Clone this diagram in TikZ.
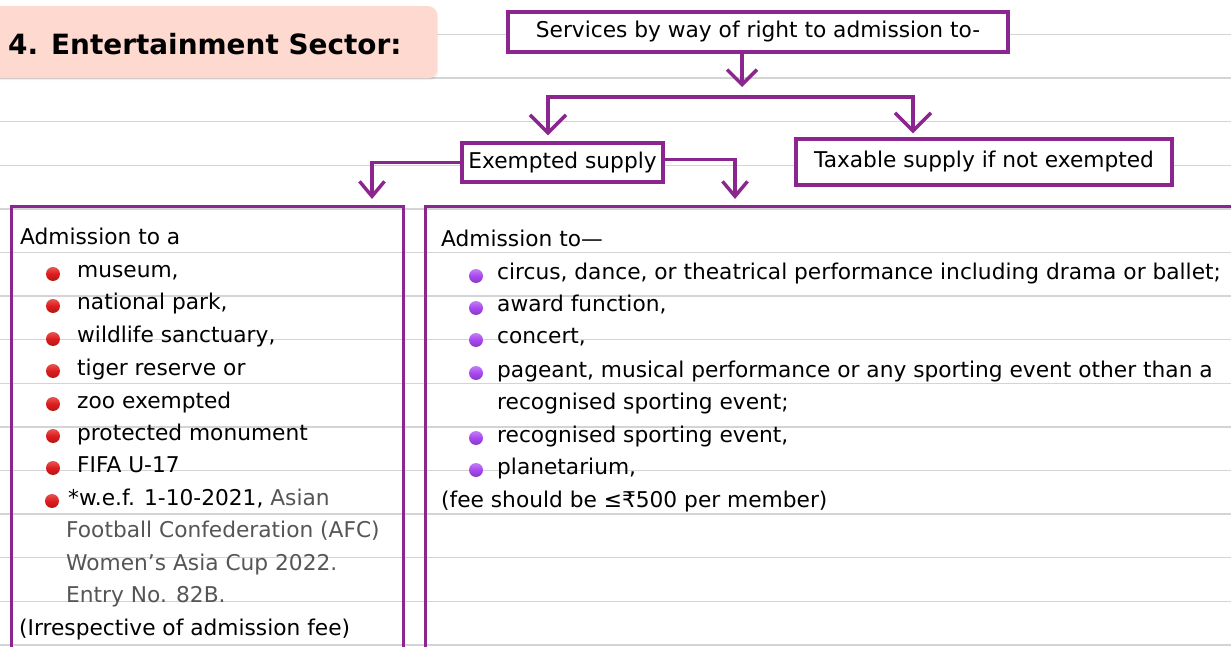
\documentclass[tikz,border=0pt]{standalone}
\usepackage{fontspec}
\setmainfont{DejaVu Sans}
\usetikzlibrary{arrows.meta,shadows,positioning}

\definecolor{flowpurple}{RGB}{138,38,142}
\definecolor{rulegray}{RGB}{212,212,212}
\definecolor{titlepink}{RGB}{253,217,207}
\definecolor{dotred}{RGB}{222,28,28}
\definecolor{dotviolet}{RGB}{168,72,240}
\definecolor{notegray}{RGB}{85,85,85}

\newcommand{\bodyfont}{\fontsize{21.8}{26}\selectfont}

\tikzset{
  ruleline/.style={draw=rulegray, line width=1.4bp},
  titlebox/.style={fill=titlepink, rounded corners=9bp,
    drop shadow={opacity=0.12, shadow xshift=1bp, shadow yshift=-2bp}},
  flowbox/.style={draw=flowpurple, line width=3.4bp, fill=white, inner sep=0pt, font=\bodyfont},
  panel/.style={draw=flowpurple, line width=3.4bp, inner sep=0pt, anchor=north west},
  flow/.style={draw=flowpurple, line width=3.4bp, -{Straight Barb[length=15bp,width=30bp]}},
  fork/.style={draw=flowpurple, line width=3.4bp,
    {Straight Barb[length=18bp,width=36bp]}-{Straight Barb[length=18bp,width=36bp]}},
  drop/.style={draw=flowpurple, line width=3.4bp, -{Straight Barb[length=15bp,width=25bp]}},
  txt/.style={anchor=base west, inner sep=0pt, font=\bodyfont},
  reddot/.style={circle, inner sep=0pt, minimum size=14bp,
    top color=dotred!75!white, bottom color=dotred!80!black, middle color=dotred},
  violetdot/.style={circle, inner sep=0pt, minimum size=14bp,
    top color=dotviolet!70!white, bottom color=dotviolet!80!black, middle color=dotviolet},
}

\begin{document}
\begin{tikzpicture}[x=1bp, y=-1bp]
    \clip (0,0) rectangle (1231,647);

    % ruled paper
    \draw[ruleline] (0,34.5) -- (1231,34.5);
    \draw[ruleline] (0,78.1) -- (1231,78.1);
    \draw[ruleline] (0,121.7) -- (1231,121.7);
    \draw[ruleline] (0,165.3) -- (1231,165.3);
    \draw[ruleline] (0,208.9) -- (1231,208.9);
    \draw[ruleline] (0,252.5) -- (1231,252.5);
    \draw[ruleline] (0,296.1) -- (1231,296.1);
    \draw[ruleline] (0,339.7) -- (1231,339.7);
    \draw[ruleline] (0,383.3) -- (1231,383.3);
    \draw[ruleline] (0,426.9) -- (1231,426.9);
    \draw[ruleline] (0,470.5) -- (1231,470.5);
    \draw[ruleline] (0,514.1) -- (1231,514.1);
    \draw[ruleline] (0,557.7) -- (1231,557.7);
    \draw[ruleline] (0,601.3) -- (1231,601.3);
    \draw[ruleline] (0,644.9) -- (1231,644.9);

    % heading
    \node[titlebox, minimum width=450bp, minimum height=72bp, anchor=north west] (sectorbox) at (-13,6) {};
    \node[anchor=base west, inner sep=0pt, font=\fontsize{28}{32}\selectfont\bfseries] (sector) at (8,55) {4. Entertainment Sector:};

    % flow boxes
    \node[flowbox, minimum width=500bp, minimum height=40bp] (services) at (758,32) {Services by way of right to admission to-};
    \node[flowbox, minimum width=201bp, minimum height=39bp] (exempt) at (562.5,162.5) {Exempted supply};
    \node[flowbox, minimum width=376bp, minimum height=46bp] (taxable) at (984,162) {Taxable supply if not exempted};

    \node[panel, minimum width=392bp, minimum height=470bp] (leftpanel) at (10,205) {};
    \node[panel, minimum width=830bp, minimum height=470bp] (rightpanel) at (424,205) {};

    % connectors
    \coordinate (fork) at (742,97);
    \coordinate (forkL) at (548,97);
    \coordinate (forkR) at (913,97);
    \coordinate (dropL) at (372,199);
    \coordinate (dropR) at (735,199);

    \draw[flow] (services.south -| fork) -- ([yshift=10bp]fork);
    \draw[fork] ([yshift=6bp]exempt.north -| forkL) |- (forkR) -- ([yshift=4bp]taxable.north -| forkR);
    \draw[drop] (exempt.west) -| (dropL);
    \draw[drop] ([yshift=3bp]exempt.east) -| (dropR);

    % exempt list
    \node[txt] (admA) at (20,245) {Admission to a};
    \node[reddot] (r1) at (53,274) {};
    \node[txt] (museum) at (77,278) {museum,};
    \node[reddot] (r2) at (53,306) {};
    \node[txt] (park) at (77,310) {national park,};
    \node[reddot] (r3) at (53,339) {};
    \node[txt] (wildlife) at (77,343) {wildlife sanctuary,};
    \node[reddot] (r4) at (53,371) {};
    \node[txt] (tiger) at (77,375) {tiger reserve or};
    \node[reddot] (r5) at (53,404) {};
    \node[txt] (zoo) at (77,408) {zoo exempted};
    \node[reddot] (r6) at (53,436) {};
    \node[txt] (monument) at (77,440) {protected monument};
    \node[reddot] (r7) at (53,468) {};
    \node[txt] (fifa) at (77,472) {FIFA U-17};
    \node[reddot] (r8) at (52,501) {};
    \node[txt] (wef) at (68,505) {*w.e.f. 1-10-2021, \textcolor{notegray}{Asian}};
    \node[txt, text=notegray] (afc) at (66,537) {Football Confederation (AFC)};
    \node[txt, text=notegray] (cup) at (66,570) {Women’s Asia Cup 2022.};
    \node[txt, text=notegray] (entry) at (66,602) {Entry No. 82B.};
    \node[txt] (irresp) at (19,635) {(Irrespective of admission fee)};

    % taxable-unless list
    \node[txt] (admB) at (441,247) {Admission to—};
    \node[violetdot] (v1) at (476,276) {};
    \node[txt] (circus) at (497,280) {circus, dance, or theatrical performance including drama or ballet;};
    \node[violetdot] (v2) at (476,308) {};
    \node[txt] (award) at (497,312) {award function,};
    \node[violetdot] (v3) at (476,340) {};
    \node[txt] (concert) at (497,344) {concert,};
    \node[violetdot] (v4) at (476,373) {};
    \node[txt] (pageant) at (497,377) {pageant, musical performance or any sporting event other than a};
    \node[txt] (pageantb) at (497,409) {recognised sporting event;};
    \node[violetdot] (v5) at (476,438) {};
    \node[txt] (sporting) at (497,442) {recognised sporting event,};
    \node[violetdot] (v6) at (476,470) {};
    \node[txt] (planet) at (497,474) {planetarium,};
    \node[txt] (fee) at (441,507) {(fee should be ≤₹500 per member)};
\end{tikzpicture}
\end{document}
